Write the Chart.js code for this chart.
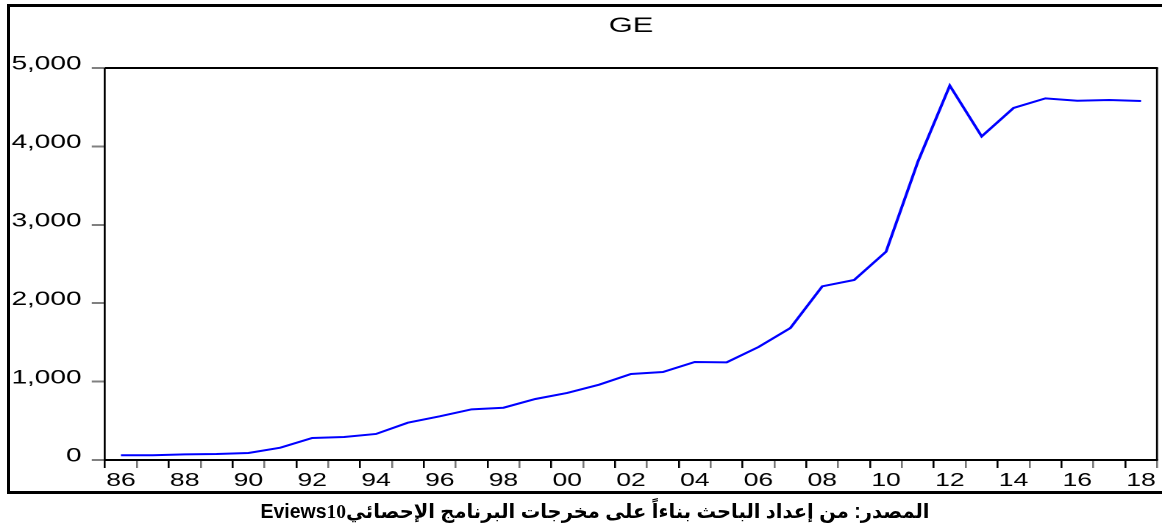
<!DOCTYPE html>
<html>
<head>
<meta charset="utf-8">
<script src="https://cdn.jsdelivr.net/npm/chart.js@4/dist/chart.umd.min.js"></script>
<style>
  html, body { margin:0; padding:0; background:#fff; width:1162px; height:529px; overflow:hidden; }
  #wrap { position:absolute; left:0; top:0; width:790px; height:529px; transform-origin:0 0; transform:scaleX(1.470886); }
  #c { display:block; }
  #frame { position:absolute; left:7px; top:4px; width:1200px; height:490px; box-sizing:border-box;
           border-left:3px solid #000; border-top:3px solid #000; border-bottom:3px solid #000; pointer-events:none; }
  #src { position:absolute; left:0; top:500px; width:1190px; text-align:center; direction:rtl;
         font:bold 19.5px "Liberation Sans", "DejaVu Sans", sans-serif; line-height:22px; color:#000; white-space:nowrap; }
  #src .num { font-family:"Liberation Serif", serif; }
</style>
</head>
<body>
<div id="wrap"><canvas id="c" width="790" height="529"></canvas></div>
<div id="frame"></div>
<div id="src" dir="rtl">المصدر: من إعداد الباحث بناءاً على مخرجات البرنامج الإحصائي<span dir="ltr">Eviews<span class="num">10</span></span></div>
<script>
// ---- data ----
const years = ['86','87','88','89','90','91','92','93','94','95','96','97','98','99','00','01','02','03','04','05','06','07','08','09','10','11','12','13','14','15','16','17','18'];
const geValues = [60,60,72,77,89,157,281,293,332,476,557,646,667,778,855,961,1097,1122,1250,1246,1441,1684,2215,2296,2657,3805,4775,4128,4490,4613,4583,4592,4579];
const yTickValues = [0,1000,2000,3000,4000,5000];
const chartTitle = 'GE';

// ---- layout constants (logical canvas coords; canvas is stretched horizontally) ----
const S = 1162/790;
const AREA_LEFT = 105 / S;
const AREA_RIGHT = 1157 / S;

const framePlugin = {
  id: 'framePlugin',
  afterDraw(chart) {
    const {ctx, chartArea: a} = chart;
    ctx.save();
    ctx.strokeStyle = '#000';
    ctx.lineWidth = 2;
    ctx.beginPath(); ctx.moveTo(a.left, a.top); ctx.lineTo(a.right + 1/S, a.top); ctx.stroke();
    ctx.lineWidth = 2 / S;
    ctx.beginPath(); ctx.moveTo(a.right, a.top); ctx.lineTo(a.right, a.bottom); ctx.stroke();
    ctx.fillStyle = '#000';
    ctx.font = '21px "Liberation Sans", Arial, sans-serif';
    ctx.textAlign = 'center';
    ctx.textBaseline = 'alphabetic';
    ctx.fillText(chartTitle, (a.left + a.right) / 2, 32);
    ctx.restore();
  }
};

new Chart(document.getElementById('c'), {
  type: 'line',
  data: {
    labels: years,
    datasets: [{
      label: chartTitle,
      data: geValues,
      borderColor: '#0000ff',
      borderWidth: 2,
      pointRadius: 0,
      tension: 0,
      fill: false
    }]
  },
  options: {
    responsive: false,
    animation: false,
    devicePixelRatio: 2,
    layout: { padding: { left: 0, right: 790 - AREA_RIGHT, top: 68, bottom: 39 } },
    plugins: { legend: { display: false }, title: { display: false }, tooltip: { enabled: false } },
    scales: {
      x: {
        type: 'category',
        offset: true,
        afterFit(scale) { scale.height = 30; },
        grid: {
          offset: true,
          drawOnChartArea: false,
          drawTicks: true,
          tickLength: 8,
          color: (c) => (c.index % 2 === 0 ? '#000' : '#777'),
          lineWidth: 1.3
        },
        border: { display: true, color: '#000', width: 2 },
        ticks: {
          autoSkip: false,
          maxRotation: 0,
          minRotation: 0,
          padding: 2,
          color: '#000',
          font: { family: '"Liberation Sans", Arial, sans-serif', size: 18 },
          callback: (v, i) => (i % 2 === 0 ? years[i] : '')
        }
      },
      y: {
        min: 0,
        max: 5000,
        afterFit(scale) { scale.width = AREA_LEFT; },
        afterBuildTicks(scale) { scale.ticks = yTickValues.map(v => ({ value: v })); },
        grid: {
          drawOnChartArea: false,
          drawTicks: true,
          tickLength: 9,
          color: '#808080',
          lineWidth: 2
        },
        border: { display: true, color: '#000', width: 2 / S },
        ticks: {
          padding: 7,
          labelOffset: -3.5,
          color: '#000',
          font: { family: '"Liberation Sans", Arial, sans-serif', size: 19 },
          callback: (v) => Number(v).toLocaleString('en-US')
        }
      }
    }
  },
  plugins: [framePlugin]
});
</script>
</body>
</html>
